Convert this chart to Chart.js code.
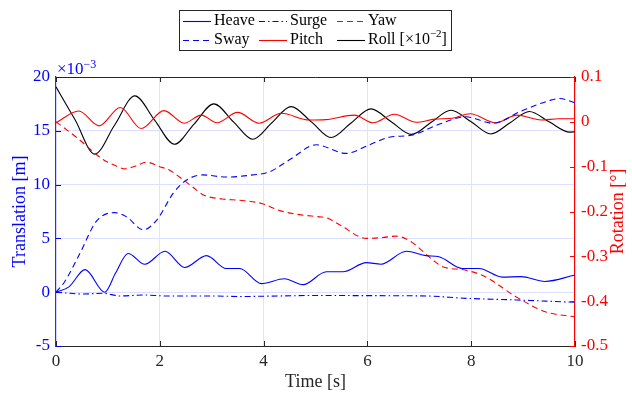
<!DOCTYPE html>
<html>
<head>
<meta charset="utf-8">
<script src="https://cdn.jsdelivr.net/npm/chart.js@4.4.0/dist/chart.umd.min.js"></script>
<style>
  html, body { margin: 0; padding: 0; background: #fff; }
  #wrap { width: 632px; height: 395px; }
</style>
</head>
<body>
<div id="wrap"><canvas id="chart" width="632" height="395"></canvas></div>
<script>
// Values (time in s)
// Translations are in units of 1e-3 m (left axis), rotations in degrees (right axis)
const heaveT = [0, 0.25, 0.56, 0.94, 1.15, 1.39, 1.71, 2.1, 2.48, 2.9, 3.28, 3.54, 3.96, 4.4, 4.76, 5.21, 5.53, 5.98, 6.26, 6.75, 7.13, 7.38, 7.83, 8.15, 8.6, 8.96, 9.42, 10];
const heaveY = [0, 0.5, 2.1, 0, 1.8, 3.6, 2.6, 3.8, 2.3, 3.4, 2.2, 2.2, 0.8, 1.25, 0.7, 1.9, 1.9, 2.75, 2.6, 3.8, 3.4, 3.3, 2.2, 2.2, 1.4, 1.45, 1.0, 1.6];

const surgeT = [0, 0.53, 0.91, 1.23, 1.68, 2.13, 3.0, 3.54, 4.3, 5.08, 5.98, 7.13, 7.9, 8.87, 10];
const surgeY = [0, -0.17, -0.1, -0.35, -0.26, -0.35, -0.35, -0.4, -0.35, -0.3, -0.32, -0.35, -0.57, -0.72, -0.94];

const swayT = [0, 0.17, 0.46, 0.78, 1.13, 1.36, 1.68, 1.94, 2.26, 2.51, 2.83, 3.28, 3.79, 4.12, 4.53, 5.01, 5.59, 6.04, 6.42, 6.85, 7.38, 7.9, 8.42, 8.95, 9.5, 9.7, 10];
const swayY = [0, 1.0, 3.6, 6.6, 7.4, 7.0, 5.8, 6.7, 9.2, 10.4, 10.9, 10.7, 10.9, 11.2, 12.4, 13.7, 12.9, 13.7, 14.4, 14.6, 15.6, 16.3, 15.7, 16.8, 17.8, 18.0, 17.6];

const yawT = [0, 0.4, 0.75, 0.92, 1.15, 1.33, 1.55, 1.74, 2.0, 2.19, 2.38, 2.64, 2.84, 3.2, 3.54, 3.96, 4.31, 4.69, 5.08, 5.21, 5.47, 5.98, 6.3, 6.55, 6.81, 7.26, 7.45, 7.9, 8.28, 8.86, 9.44, 10];
const yawY = [0, -0.035, -0.070, -0.085, -0.098, -0.105, -0.098, -0.090, -0.100, -0.108, -0.123, -0.146, -0.163, -0.172, -0.175, -0.182, -0.198, -0.207, -0.212, -0.214, -0.230, -0.260, -0.258, -0.255, -0.265, -0.308, -0.323, -0.331, -0.346, -0.390, -0.424, -0.435];

const pitchT = [0, 0.44, 0.83, 1.24, 1.64, 2.08, 2.47, 2.8, 3.1, 3.5, 3.91, 4.34, 4.88, 5.2, 5.75, 6.11, 6.52, 6.94, 7.3, 7.64, 7.98, 8.47, 8.88, 9.35, 9.69, 10];
const pitchY = [-0.002, 0.024, -0.009, 0.032, -0.015, 0.025, -0.003, 0.015, -0.002, 0.021, -0.003, 0.019, 0.004, 0.005, 0.015, -0.002, 0.017, -0.001, 0.006, 0.008, 0.018, -0.002, 0.015, 0.004, 0.007, 0.007];

const rollT = [0, 0.37, 0.745, 1.13, 1.52, 1.9, 2.28, 2.66, 3.04, 3.42, 3.79, 4.16, 4.53, 4.92, 5.3, 5.68, 6.07, 6.46, 6.85, 7.23, 7.61, 8.0, 8.38, 8.75, 9.12, 9.5, 9.9, 10];
const rollY = [0.078, 0.004, -0.072, -0.007, 0.058, 0.004, -0.050, -0.005, 0.040, 0.0, -0.039, -0.002, 0.034, 0.0, -0.035, -0.003, 0.029, 0.0, -0.028, -0.001, 0.026, 0.0, -0.027, -0.002, 0.023, 0.0, -0.023, -0.022];

const xTicks = [0, 2, 4, 6, 8, 10];
const leftTicks = [-5, 0, 5, 10, 15, 20];
const rightTicks = [-0.5, -0.4, -0.3, -0.2, -0.1, 0, 0.1];

const BLUE = '#0000ff';
const RED = '#ff0000';
const AXIS = '#262626';
const SERIF = '"Liberation Serif", "Times New Roman", serif';

function pts(ts, ys) {
  return ts.map((t, i) => ({ x: t, y: ys[i] }));
}

function line(label, ts, ys, color, dash, axis) {
  return {
    label: label,
    data: pts(ts, ys),
    borderColor: color,
    borderWidth: 1.1,
    borderDash: dash,
    pointRadius: 0,
    fill: false,
    cubicInterpolationMode: 'monotone',
    yAxisID: axis
  };
}

// draw text with "^{...}" superscripts
function richText(ctx, text, x, y, size) {
  const parts = text.split(/\^\{(.*?)\}/);
  let cx = x;
  parts.forEach((p, i) => {
    if (!p) return;
    const sup = i % 2 === 1;
    ctx.font = (sup ? Math.round(size * 0.7) : size) + 'px ' + SERIF;
    ctx.fillText(p, cx, sup ? y - size * 0.38 : y);
    cx += ctx.measureText(p).width;
  });
}

// Legend box in the top centre, 3 columns x 2 rows
const legendBox = {
  id: 'legendBox',
  afterDraw(chart) {
    const ctx = chart.ctx;
    const cols = [183, 259, 337];
    const rows = [21, 40];
    ctx.save();
    ctx.fillStyle = '#fff';
    ctx.fillRect(179, 10, 273, 41);
    ctx.strokeStyle = AXIS;
    ctx.lineWidth = 1;
    ctx.strokeRect(179.5, 10.5, 272, 40);
    chart.data.datasets.forEach((ds, i) => {
      const x = cols[i % 3];
      const y = rows[Math.floor(i / 3)];
      ctx.strokeStyle = ds.borderColor;
      ctx.lineWidth = ds.borderWidth;
      ctx.setLineDash(ds.borderDash || []);
      ctx.beginPath();
      ctx.moveTo(x, y + 0.5);
      ctx.lineTo(x + 28, y + 0.5);
      ctx.stroke();
      ctx.setLineDash([]);
      ctx.fillStyle = '#000';
      ctx.textBaseline = 'middle';
      ctx.textAlign = 'left';
      richText(ctx, ds.legendText || ds.label, x + 31, y, 16);
    });
    ctx.restore();
  }
};

// inward tick marks, top border, exponent label and right axis title
const axisDecor = {
  id: 'axisDecor',
  afterDraw(chart) {
    const { ctx, chartArea: a, scales } = chart;
    ctx.save();
    ctx.lineWidth = 1;
    ctx.strokeStyle = AXIS;
    ctx.beginPath();
    ctx.moveTo(a.left, a.top + 0.5);
    ctx.lineTo(a.right, a.top + 0.5);
    ctx.stroke();
    scales.x.ticks.forEach(t => {
      const px = Math.round(scales.x.getPixelForValue(t.value)) + 0.5;
      ctx.beginPath();
      ctx.moveTo(px, a.bottom); ctx.lineTo(px, a.bottom - 5);
      ctx.moveTo(px, a.top); ctx.lineTo(px, a.top + 5);
      ctx.stroke();
    });
    ctx.strokeStyle = BLUE;
    scales.y.ticks.forEach(t => {
      const py = Math.round(scales.y.getPixelForValue(t.value)) + 0.5;
      ctx.beginPath();
      ctx.moveTo(a.left, py); ctx.lineTo(a.left + 5, py);
      ctx.stroke();
    });
    ctx.strokeStyle = RED;
    scales.y2.ticks.forEach(t => {
      const py = Math.round(scales.y2.getPixelForValue(t.value)) + 0.5;
      ctx.beginPath();
      ctx.moveTo(a.right, py); ctx.lineTo(a.right - 5, py);
      ctx.stroke();
    });
    ctx.fillStyle = BLUE;
    ctx.textBaseline = 'alphabetic';
    ctx.textAlign = 'left';
    richText(ctx, '×10^{−3}', a.left + 1, a.top - 3, 17);

    // right title reads bottom to top, like the left one
    ctx.translate(618, (a.top + a.bottom) / 2);
    ctx.rotate(-Math.PI / 2);
    ctx.fillStyle = RED;
    ctx.textAlign = 'center';
    ctx.textBaseline = 'middle';
    ctx.font = '18px ' + SERIF;
    ctx.fillText('Rotation [°]', 0, 0);
    ctx.restore();
  }
};

const datasets = [
  line('Heave', heaveT, heaveY, BLUE, [], 'y'),
  line('Surge', surgeT, surgeY, BLUE, [6, 3, 1.5, 3], 'y'),
  line('Yaw', yawT, yawY, RED, [6, 4], 'y2'),
  line('Sway', swayT, swayY, BLUE, [6, 4], 'y'),
  line('Pitch', pitchT, pitchY, RED, [], 'y2'),
  line('Roll', rollT, rollY, '#000000', [], 'y2')
];
datasets[5].legendText = 'Roll [×10^{−2}]';

Chart.defaults.font.family = SERIF;

new Chart(document.getElementById('chart'), {
  type: 'line',
  data: { datasets: datasets },
  options: {
    responsive: false,
    animation: false,
    layout: { padding: { top: 77, left: 0, right: 0, bottom: 0 } },
    plugins: { legend: { display: false }, tooltip: { enabled: false } },
    scales: {
      x: {
        type: 'linear',
        min: 0, max: 10,
        afterBuildTicks: s => { s.ticks = xTicks.map(v => ({ value: v })); },
        afterFit: s => { s.height = 49; },
        ticks: { color: AXIS, padding: 5, font: { size: 17 }, callback: v => String(v) },
        grid: {
          drawTicks: false,
          color: c => (c.tick && (c.tick.value === 0 || c.tick.value === 10)) ? 'rgba(0,0,0,0)' : '#e6e6e6'
        },
        border: { display: true, color: AXIS, width: 1 },
        title: { display: true, text: 'Time [s]', color: AXIS, font: { size: 18 }, padding: { top: 0, bottom: 2 } }
      },
      y: {
        type: 'linear',
        position: 'left',
        min: -5, max: 20,
        afterBuildTicks: s => { s.ticks = leftTicks.map(v => ({ value: v })); },
        afterFit: s => { s.width = 56; },
        ticks: { color: BLUE, padding: 6, font: { size: 17 }, callback: v => String(v) },
        grid: {
          drawTicks: false,
          color: c => (c.tick && (c.tick.value === -5 || c.tick.value === 20)) ? 'rgba(0,0,0,0)' : '#dedeff'
        },
        border: { display: true, color: '#2a2aff', width: 1.2 },
        title: { display: true, text: 'Translation [m]', color: BLUE, font: { size: 18 }, padding: { top: 9, bottom: 0 } }
      },
      y2: {
        type: 'linear',
        position: 'right',
        min: -0.5, max: 0.1,
        afterBuildTicks: s => { s.ticks = rightTicks.map(v => ({ value: v })); },
        afterFit: s => { s.width = 57; },
        ticks: {
          color: RED, padding: 6, font: { size: 17 },
          callback: v => Math.abs(v) < 1e-9 ? '0' : String(+v.toFixed(1))
        },
        grid: { display: false, drawTicks: false },
        border: { display: true, color: RED, width: 1.2 },
        title: { display: false }
      }
    }
  },
  plugins: [axisDecor, legendBox]
});
</script>
</body>
</html>
